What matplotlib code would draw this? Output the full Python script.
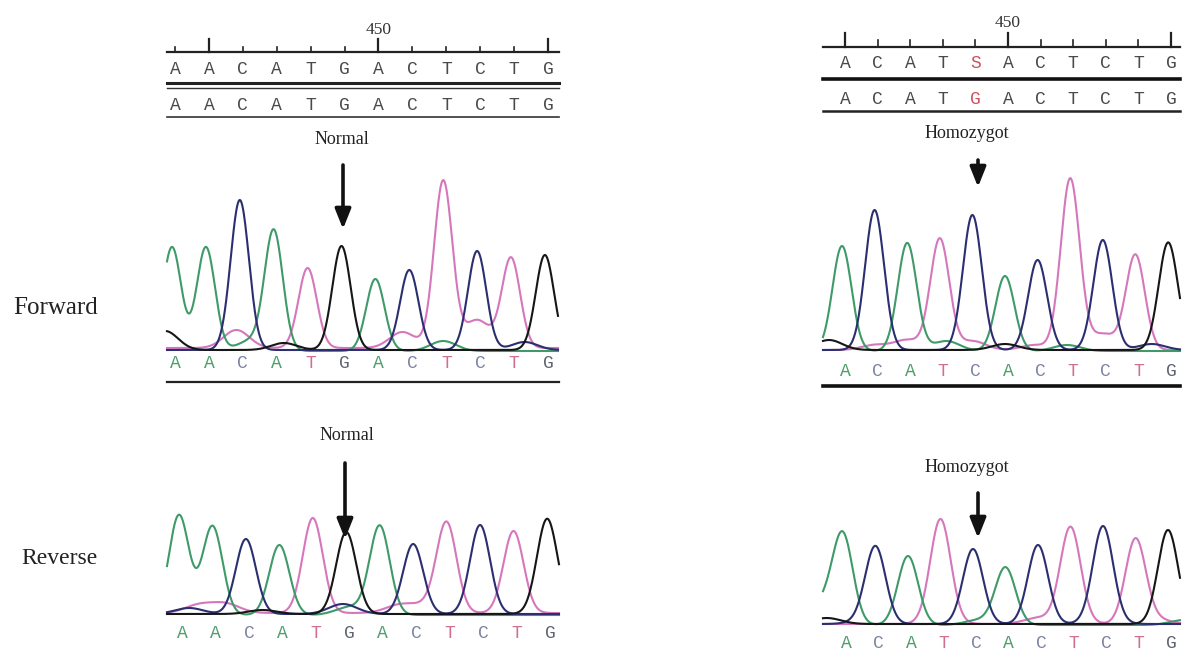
import numpy as np
import matplotlib
matplotlib.use("Agg")
import matplotlib.pyplot as plt
from matplotlib import transforms

# ---------------- data ----------------
# Left (normal) forward
LF_calls = list("AACATGACTCTG")
LF_heights = [104, 104, 150, 120, 80, 104, 72, 80, 167, 99, 90, 95]
LF_minor_ch = ['G', 'T', 'A', 'G', 'T', 'A', 'T', 'C']
LF_minor_pos = [-0.2, 1.9, 2.3, 3.3, 6.8, 8.0, 9.0, 10.4]
LF_minor_h = [19, 18, 10, 7, 16, 10, 28, 8]
LF_ref_top = list("AACATGACTCTG")
LF_ref_bot = list("AACATGACTCTG")

# Left (normal) reverse
LR_calls = list("AACATGACTCTG")
LR_heights = [100, 89, 75, 70, 95, 82, 89, 70, 89, 89, 82, 89]
LR_minor_ch = ['C', 'T', 'T', 'G', 'C', 'A', 'T', 'T', 'G']
LR_minor_pos = [0.3, 0.6, 1.4, 2.5, 4.9, 5.1, 6.6, 7.4, 11.2]
LR_minor_h = [6, 8, 9, 4, 10, 8, 8, 7, 7]

# Right (homozygote) forward
RF_calls = list("ACATCACTCTG")
RF_heights = [105, 140, 108, 111, 135, 75, 90, 171, 110, 95, 103]
RF_minor_ch = ['G', 'T', 'T', 'A', 'T', 'G', 'T', 'A', 'T', 'C', 'G']
RF_minor_pos = [-0.4, 1.0, 2.0, 3.2, 4.0, 5.0, 5.9, 6.9, 8.0, 9.5, 10.3]
RF_minor_h = [10, 5, 10, 10, 9, 6, 5, 6, 16, 6, 6]
RF_ref_top = list("ACATSACTCTG")
RF_ref_bot = list("ACATGACTCTG")

# Right (homozygote) reverse
RR_calls = list("ACATCACTCTG")
RR_heights = [85, 75, 69, 99, 75, 57, 79, 92, 92, 84, 94]
RR_minor_ch = ['A', 'G', 'C', 'T', 'A', 'T', 'T', 'C', 'T', 'A']
RR_minor_pos = [-0.6, -0.5, 0.7, 3.0, 4.2, 6.0, 7.0, 8.0, 9.6, 10.5]
RR_minor_h = [22, 6, 4, 6, 5, 6, 5, 6, 5, 5]

RULER_LABEL = "450"

# ---------------- style ----------------
W, H = 1187, 653
TRACE = {'T': '#d677bd', 'A': '#3f9a6a', 'C': '#2b2f70', 'G': '#161616'}
CALLCOL = {'A': '#4f9e6c', 'C': '#7c84a4', 'T': '#d0708e', 'G': '#5f6470'}
GRAY = '#4a4a4a'
SERIF = ['Liberation Serif', 'DejaVu Serif']
MONO = ['Liberation Mono', 'DejaVu Sans Mono']

fig = plt.figure(figsize=(W / 100, H / 100), dpi=100)
fig.patch.set_facecolor('white')
ov = fig.add_axes([0, 0, 1, 1])
ov.set_xlim(0, W)
ov.set_ylim(H, 0)
ov.axis('off')


def panel(px0, px1, ptop, pbase, p_first, spacing, calls, heights,
          mch, mpos, mh, sigma, offsets):
    ax = fig.add_axes([px0 / W, (H - pbase) / H, (px1 - px0) / W,
                       (pbase - ptop) / H])
    x0 = (px0 - p_first) / spacing
    x1 = (px1 - p_first) / spacing
    ax.set_xlim(x0, x1)
    ax.set_ylim(0, pbase - ptop)
    ax.axis('off')
    ax.patch.set_alpha(0)
    x = np.linspace(x0, x1, 900)
    for ch in ['T', 'A', 'C', 'G']:
        y = np.full_like(x, offsets[ch])
        for i, (c, h) in enumerate(zip(calls, heights)):
            if c == ch:
                y += h * np.exp(-(x - i) ** 2 / (2 * sigma ** 2))
        for c, p, h in zip(mch, mpos, mh):
            if c == ch:
                y += h * np.exp(-(x - p) ** 2 / (2 * (sigma * 1.4) ** 2))
        ax.plot(x, y, color=TRACE[ch], lw=1.5, clip_on=False,
                solid_joinstyle='round')
    bt = transforms.blended_transform_factory(ax.transData, ov.transData)
    return ax, bt


def call_row(bt, calls, ypix, offset=0.09):
    for i, c in enumerate(calls):
        ov.text(i + offset, ypix, c, transform=bt, ha='center', va='center',
                fontsize=13, family=MONO, color=CALLCOL[c])


def ref_rows(bt, top, bot, y1, y2, colors_top, colors_bot, offset=0.09):
    for i, c in enumerate(top):
        ov.text(i + offset, y1, c, transform=bt, ha='center', va='center',
                fontsize=13, family=MONO, color=colors_top[i])
    for i, c in enumerate(bot):
        ov.text(i + offset, y2, c, transform=bt, ha='center', va='center',
                fontsize=13, family=MONO, color=colors_bot[i])


def ruler(bt, n, x0, x1, yline, majors, label_idx, major_top, minor_top,
          ylabel, offset=0.09):
    ov.plot([x0, x1], [yline, yline], color='#222', lw=1.6)
    for i in range(n):
        top = major_top if i in majors else minor_top
        ov.plot([i + offset, i + offset], [yline, top], transform=bt,
                color='#222', lw=1.6 if i in majors else 1.2)
    ov.text(label_idx + offset, ylabel, RULER_LABEL, transform=bt,
            ha='center', va='center', fontsize=12.5, family=SERIF, color='#333')


def arrow(x, ytail, ytip):
    ov.annotate('', xy=(x, ytip), xytext=(x, ytail),
                arrowprops=dict(arrowstyle='-|>,head_length=0.6,head_width=0.24',
                                lw=2.6, color='#111', mutation_scale=20,
                                shrinkA=0, shrinkB=0))


LABEL_FS = 13

# ---- Left forward ----
axLF, btLF = panel(167, 558, 170, 352, 172, 33.9, LF_calls, LF_heights,
                   LF_minor_ch, LF_minor_pos, LF_minor_h, 0.27,
                   {'T': 4, 'A': 1, 'C': 2, 'G': 2})
ruler(btLF, 12, 167, 559, 52, [1, 6, 11], 6, 39, 47, 30)
ref_rows(btLF, LF_ref_top, LF_ref_bot, 70, 106,
         [GRAY] * 12, [GRAY] * 12)
ov.plot([167, 559], [83, 83], color='#222', lw=2.2)
ov.plot([167, 559], [87.5, 87.5], color='#333', lw=1.0)
ov.plot([167, 559], [117, 117], color='#333', lw=1.2)
ov.text(342, 140, "Normal", ha='center', va='center', fontsize=LABEL_FS,
        family=SERIF, color='#222')
arrow(343, 165, 229)
call_row(btLF, LF_calls, 363)
ov.plot([167, 559], [382, 382], color='#222', lw=1.6)

# ---- Left reverse ----
axLR, btLR = panel(167, 559, 470, 617, 179, 33.45, LR_calls, LR_heights,
                   LR_minor_ch, LR_minor_pos, LR_minor_h, 0.30,
                   {'T': 4, 'A': 2, 'C': 3, 'G': 3})
ov.text(347, 435, "Normal", ha='center', va='center', fontsize=LABEL_FS,
        family=SERIF, color='#222')
arrow(345, 463, 539)
call_row(btLR, LR_calls, 633)

# ---- Right forward ----
axRF, btRF = panel(823, 1180, 170, 353, 842, 32.6, RF_calls, RF_heights,
                   RF_minor_ch, RF_minor_pos, RF_minor_h, 0.29,
                   {'T': 3, 'A': 2, 'C': 3, 'G': 3})
ruler(btRF, 11, 823, 1180, 47, [0, 5, 10], 5, 33, 40, 23)
ref_rows(btRF, RF_ref_top, RF_ref_bot, 63, 100,
         [('#d05060' if c == 'S' else GRAY) for c in RF_ref_top],
         [('#d05060' if i == 4 else GRAY) for i, c in enumerate(RF_ref_bot)])
ov.plot([823, 1180], [79, 79], color='#111', lw=2.6)
ov.plot([823, 1180], [111, 111], color='#222', lw=1.8)
ov.text(967, 133, "Homozygot", ha='center', va='center', fontsize=LABEL_FS,
        family=SERIF, color='#222')
arrow(978, 160, 187)
call_row(btRF, RF_calls, 371)
ov.plot([823, 1180], [386, 386], color='#111', lw=2.6)

# ---- Right reverse ----
axRR, btRR = panel(823, 1180, 480, 627, 843, 32.5, RR_calls, RR_heights,
                   RR_minor_ch, RR_minor_pos, RR_minor_h, 0.31,
                   {'T': 3, 'A': 2, 'C': 3, 'G': 3})
ov.text(967, 468, "Homozygot", ha='center', va='center', fontsize=LABEL_FS,
        family=SERIF, color='#222')
arrow(978, 493, 538)
call_row(btRR, RR_calls, 644)

# ---- side labels ----
ov.text(56, 308, "Forward", ha='center', va='center', fontsize=18,
        family=SERIF, color='#222')
ov.text(59, 558, "Reverse", ha='center', va='center', fontsize=17,
        family=SERIF, color='#222')

fig.savefig("out.png", dpi=100, facecolor='white')
